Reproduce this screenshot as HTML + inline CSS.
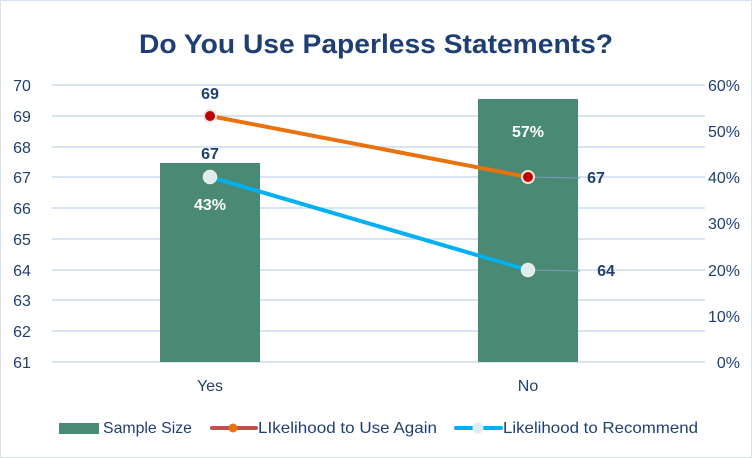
<!DOCTYPE html>
<html><head><style>
body{margin:0;background:#fff;}
svg{display:block;font-family:"Liberation Sans",sans-serif;}
</style></head><body>
<svg width="752" height="458" viewBox="0 0 752 458">
<rect x="0.5" y="0.5" width="751" height="457" fill="#fff" stroke="#d6e2f0"/>
<text x="139" y="53" font-size="27" font-weight="bold" fill="#1f3f73" textLength="474" lengthAdjust="spacingAndGlyphs">Do You Use Paperless Statements?</text>
<g stroke="#d9e4f2" stroke-width="2">
<line x1="52" x2="705" y1="85" y2="85"/><line x1="52" x2="705" y1="116" y2="116"/>
<line x1="52" x2="705" y1="147" y2="147"/><line x1="52" x2="705" y1="177" y2="177"/>
<line x1="52" x2="705" y1="208" y2="208"/><line x1="52" x2="705" y1="239" y2="239"/>
<line x1="52" x2="705" y1="270" y2="270"/><line x1="52" x2="705" y1="300" y2="300"/>
<line x1="52" x2="705" y1="331" y2="331"/><line x1="52" x2="705" y1="362" y2="362"/>
</g>
<g font-size="16" fill="#1f3f73" text-anchor="middle">
<text x="22" y="91">70</text><text x="22" y="122">69</text><text x="22" y="153">68</text>
<text x="22" y="183">67</text><text x="22" y="214">66</text><text x="22" y="245">65</text>
<text x="22" y="276">64</text><text x="22" y="306">63</text><text x="22" y="337">62</text>
<text x="22" y="368">61</text>
</g>
<g font-size="16" fill="#1f3f73" text-anchor="end">
<text x="740" y="91">60%</text><text x="740" y="137">50%</text><text x="740" y="183">40%</text>
<text x="740" y="229">30%</text><text x="740" y="276">20%</text><text x="740" y="322">10%</text>
<text x="740" y="368">0%</text>
</g>
<rect x="160" y="163" width="100" height="199" fill="#4a8a74"/>
<rect x="478" y="99" width="100" height="263" fill="#4a8a74"/>
<text x="210" y="391" text-anchor="middle" font-size="16" fill="#1f3f73">Yes</text>
<text x="528" y="391" text-anchor="middle" font-size="16" fill="#1f3f73">No</text>
<line x1="528" y1="177" x2="580" y2="178" stroke="#7f9bc0" stroke-width="1"/>
<line x1="528" y1="270" x2="580" y2="271" stroke="#7f9bc0" stroke-width="1"/>
<line x1="210" y1="116" x2="528" y2="177" stroke="#e8730e" stroke-width="4"/>
<line x1="210" y1="177" x2="528" y2="270" stroke="#00b0f0" stroke-width="4"/>
<circle cx="210" cy="116" r="6" fill="#c00000" stroke="#f0e6dc" stroke-width="2"/>
<circle cx="528" cy="177" r="6" fill="#c00000" stroke="#f0e6dc" stroke-width="2"/>
<circle cx="210" cy="177" r="6.5" fill="#deebf0" stroke="#f0ece0" stroke-width="1.5"/>
<circle cx="528" cy="270" r="6.5" fill="#deebf0" stroke="#f0ece0" stroke-width="1.5"/>
<g font-size="16" font-weight="bold" text-anchor="middle">
<text x="210" y="99" fill="#1f3f73">69</text>
<text x="210" y="159" fill="#1f3f73">67</text>
<text x="210" y="210" fill="#fff">43%</text>
<text x="528" y="137" fill="#fff">57%</text>
<text x="596" y="183" fill="#1f3f73">67</text>
<text x="606" y="276" fill="#1f3f73">64</text>
</g>
<rect x="59" y="423" width="40" height="11" fill="#4a8a74"/>
<text x="103" y="433" font-size="16" fill="#1f3f73" textLength="89" lengthAdjust="spacingAndGlyphs">Sample Size</text>
<line x1="212" y1="428" x2="256" y2="428" stroke="#c0504d" stroke-width="4" stroke-linecap="round"/>
<circle cx="233" cy="428" r="4.5" fill="#e8730e"/>
<text x="258" y="433" font-size="16" fill="#1f3f73" textLength="179" lengthAdjust="spacingAndGlyphs">LIkelihood to Use Again</text>
<line x1="456" y1="428" x2="501" y2="428" stroke="#00b0f0" stroke-width="4" stroke-linecap="round"/>
<circle cx="478" cy="428" r="5.5" fill="#deebf0"/>
<text x="503" y="433" font-size="16" fill="#1f3f73" textLength="195" lengthAdjust="spacingAndGlyphs">Likelihood to Recommend</text>
</svg>
</body></html>
